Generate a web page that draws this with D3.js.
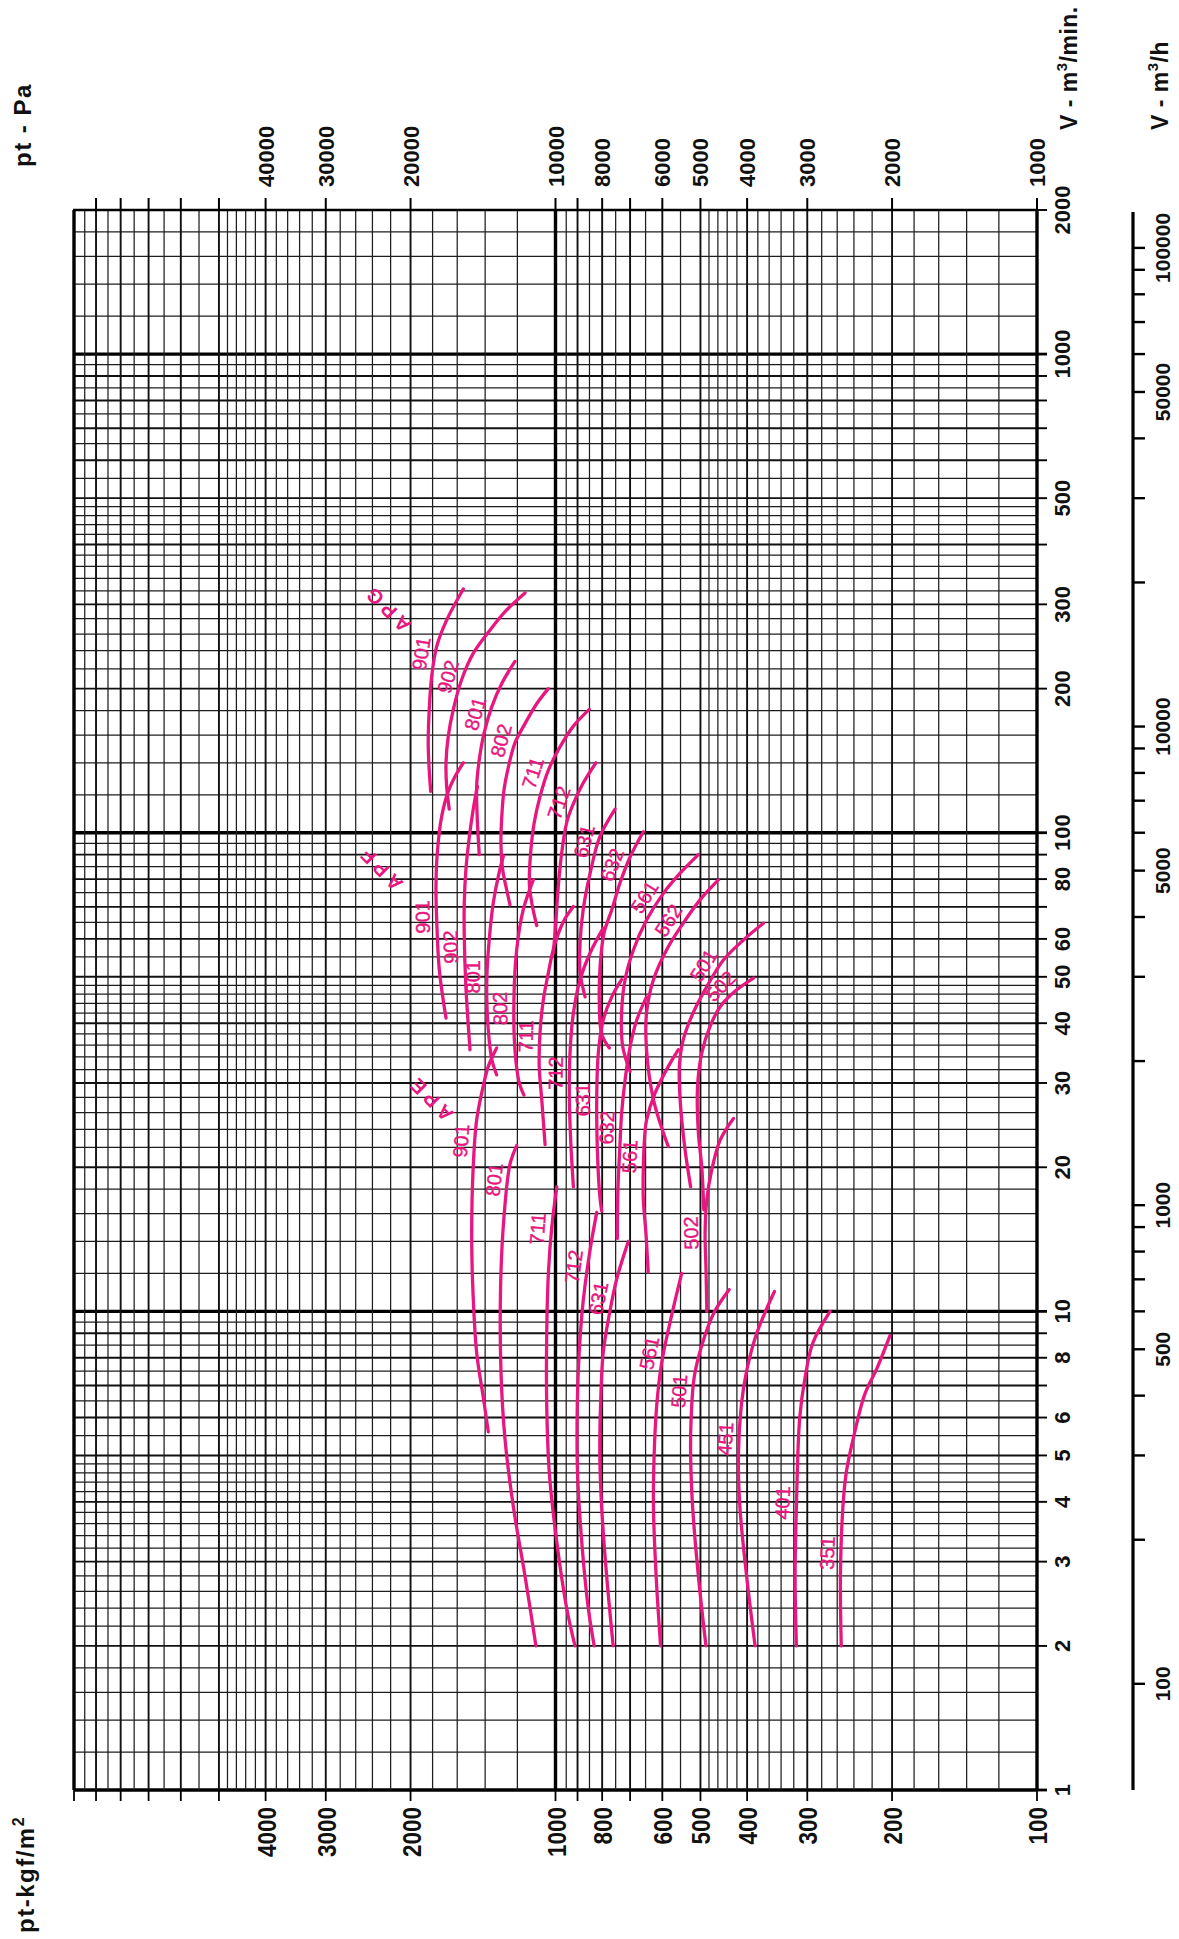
<!DOCTYPE html>
<html lang="en">
<head>
<meta charset="UTF-8">
<title>Fan characteristic curves APE / APF / APG</title>
<script src="https://cdnjs.cloudflare.com/ajax/libs/d3/7.8.5/d3.min.js"></script>
<style>
  body { margin: 0; background: #fff; }
  svg text { font-family: "Liberation Sans", Arial, Helvetica, sans-serif; }
  .axlbl { font-weight: bold; fill: #111; }
  .curve { fill: none; stroke: #e8177f; stroke-width: 3.3; stroke-linecap: round; stroke-linejoin: round; }
  .clbl { fill: #e8177f; font-size: 20px; stroke: #e8177f; stroke-width: 0.4; }
  .glbl { fill: #e8177f; font-size: 20px; font-weight: bold; letter-spacing: 5px; }
</style>
</head>
<body>
<div id="chart"></div>
<script>
// each curve: [V m3/min, pt kgf/m2], low flow first
const apg901 = [[122,1816],[135,1829],[154,1838],[181,1829],[212,1808],[245,1765],[278,1683],[323,1554]];
const apg902 = [[112,1662],[125,1683],[140,1688],[159,1670],[181,1630],[209,1566],[237,1482],[265,1368],[292,1263],[317,1157]];
const apg801 = [[90,1440],[106,1453],[125,1458],[142,1440],[161,1408],[183,1357],[205,1293],[228,1214]];
const apg802 = [[70.7,1243],[76,1263],[83.6,1287],[95,1298],[108,1293],[123,1279],[137,1253],[154,1214],[169,1157],[186,1094],[200,1035]];
const apg711 = [[64,1094],[71,1119],[78,1133],[91,1126],[105,1107],[119,1077],[135,1035],[151,979],[167,918],[181,851]];
const apg712 = [[56,1010],[65.7,998],[77,987],[90.6,971],[105,948],[115,918],[127,876],[140,824]];
const apg631 = [[45.4,868],[51,889],[59,889],[69,876],[82,848],[98,809],[112,752]];
const apg632 = [[35.5,773],[38,802],[44.7,811],[52.5,808],[61.7,793],[69,764],[78.4,735],[89,700],[100.5,657]];
const apg561 = [[31.7,700],[35.7,725],[42,729],[49.3,717],[56.9,689],[65.7,647],[74.7,597],[82.3,551],[90,505]];
const apg562 = [[22.1,583],[23.6,597],[27.7,626],[35.2,647],[42,647],[49.3,626],[56.9,588],[64.7,543],[72.4,501],[79.7,459]];
const apg501 = [[18.2,524],[21.7,538],[27.7,551],[32.5,553],[36.9,543],[42,518],[47.7,485],[54.2,448],[59.7,407],[64.7,370]];
const apg502 = [[16.3,492],[20.1,497],[23.6,505],[29.5,507],[34.6,497],[39.3,478],[43.3,455],[46.9,421],[49.7,388]];

const apf901 = [[41,1688],[51.7,1743],[65.7,1765],[77.2,1771],[90.6,1760],[108,1724],[122,1670],[131,1617],[140,1554]];
const apf902 = [[35.2,1505],[47.7,1535],[60.7,1547],[71.2,1547],[83.6,1535],[98,1510],[112,1482],[125,1453]];
const apf801 = [[31.2,1325],[33.5,1355],[37.4,1375],[43.7,1388],[50.5,1388],[59.7,1373],[71.2,1347],[81,1315],[89.4,1283]];
const apf802 = [[28.3,1163],[30,1189],[35.2,1214],[44.7,1220],[56.9,1204],[69,1167],[79.7,1112]];
const apf711 = [[22.3,1051],[27.7,1068],[32.5,1081],[38.1,1077],[44.7,1060],[50.9,1035],[57.8,1007],[65.2,963],[70.1,918]];
const apf712 = [[18.2,918],[22.8,930],[28.1,936],[34.6,933],[42,918],[49.3,889],[56,848],[63.2,796]];
const apf631 = [[16.2,802],[17.4,809],[22.1,819],[28.1,821],[34.6,815],[40.6,796],[45.4,764],[49.3,729]];
const apf632 = [[14.2,744],[17.9,742],[22.1,735],[25.9,729],[30.4,717],[35.7,700],[40.6,678],[45.4,647]];
const apf561 = [[12.1,642],[14.6,649],[17.1,657],[20,657],[23.6,652],[25.1,647],[28.6,621],[32.5,583],[35.2,556]];
const apf502 = [[10,485],[12.4,487],[14.6,489],[17.1,485],[19.7,474],[22.8,455],[25.3,427]];

const ape901 = [[5.6,1379],[6.6,1412],[8.2,1458],[11.4,1486],[14.6,1493],[20.1,1482],[25.1,1458],[28.6,1423],[32.5,1379],[35.5,1325]];
const ape801 = [[2.0,1098],[2.8,1157],[3.9,1223],[5.4,1273],[7.5,1298],[11.4,1300],[15.8,1279],[20.3,1243],[22.2,1204]];
const ape711 = [[2.0,911],[2.4,948],[3.3,994],[4.6,1030],[6.4,1043],[8.9,1043],[11.9,1035],[15,1018],[18.2,994]];
const ape712 = [[2.0,831],[2.4,855],[3.3,882],[4.6,900],[6.4,901],[8.2,893],[10.5,876],[13.4,848],[16.1,821]];
const ape631 = [[2.0,759],[2.8,783],[3.9,802],[5.0,809],[6.4,806],[8.2,796],[10,771],[11.7,746],[14,706]];
const ape561 = [[2.0,605],[2.8,618],[3.9,626],[5.0,624],[6.4,616],[7.8,602],[9.5,578],[12,547]];
const ape501 = [[2.0,487],[2.8,505],[3.9,519],[5.0,524],[5.9,523],[7.3,515],[8.7,493],[10,467],[11.1,436]];
const ape451 = [[2.0,385],[2.8,401],[3.9,414],[5.0,417],[6.4,411],[7.5,401],[9.0,382],[11,351]];
const ape401 = [[2.0,316],[2.8,318],[3.9,316],[6.0,311],[7.3,303],[8.6,292],[10,269]];
const ape351 = [[2.0,255],[2.8,256],[3.9,253],[4.6,249],[5.4,241],[6.7,228],[7.6,215],[8.9,202]];

const apgNames = ['901','902','801','802','711','712','631','632','561','562','501','502'];
const apgSeries = [apg901,apg902,apg801,apg802,apg711,apg712,apg631,apg632,apg561,apg562,apg501,apg502];
const apgLabelV = [234,208,174,153,130.6,113,94.3,83.6,70.8,63.3,51,45.6];

const apfNames = ['901','902','801','802','711','712','631','632','561','502'];
const apfSeries = [apf901,apf902,apf801,apf802,apf711,apf712,apf631,apf632,apf561,apf502];
const apfLabelV = [66.8,57.8,50,43,37.5,31.4,27.7,24.1,21,14.6];

const apeNames = ['901','801','711','712','631','561','501','451','401','351'];
const apeSeries = [ape901,ape801,ape711,ape712,ape631,ape561,ape501,ape451,ape401,ape351];
const apeLabelV = [22.6,18.7,14.8,12.3,10.5,8.07,6.78,5.39,3.97,3.12];

const groupNames = ['APG','APF','APE'];
const groupAt = [[294.5,2242],[84.4,2315],[27.9,1822]];   // [V, pt]

// axis labels
const vMinLabels = [2000,1000,500,300,200,100,80,60,50,40,30,20,10,8,6,5,4,3,2,1];
const vHourLabels = [100000,50000,10000,5000,1000,500,100];
const ptKgfLabels = [4000,3000,2000,1000,800,600,500,400,300,200,100];
const ptPaLabels = [40000,30000,20000,10000,8000,6000,5000,4000,3000,2000,1000];

const W = 1179, H = 1939;
const svg = d3.select('#chart').append('svg').attr('width', W).attr('height', H);
svg.append('rect').attr('width', W).attr('height', H).attr('fill', '#fff');

// pressure runs right->left, volume top->bottom (chart printed turned by 90 deg)
const x = d3.scaleLog().domain([10000, 100]).range([74, 1037]);
const y = d3.scaleLog().domain([2000, 1]).range([210, 1790]);
const xPa = d3.scaleLog().domain([100000, 1000]).range([74, 1037]);
const yHour = d3.scaleLog().domain([120000, 60]).range([210, 1790]);

function steps(lo, hi, st) {
  const a = [];
  for (let v = lo; v < hi - 1e-9; v += st) a.push(+v.toPrecision(6));
  return a;
}
function decadeGrid(decs) {
  let a = [];
  decs.forEach(d => { a = a.concat(steps(d, 5 * d, 0.2 * d), steps(5 * d, 10 * d, 0.5 * d)); });
  return a;
}
function kind(v) {
  const l = Math.log10(v);
  if (Math.abs(l - Math.round(l)) < 1e-6) return 2;
  const m = v / Math.pow(10, Math.floor(l + 1e-9));
  return Math.abs(m - Math.round(m)) < 1e-6 ? 1 : 0;
}
const widths = [1.25, 1.9, 3.4];
const colors = ['#1e1e1e', '#111', '#000'];

const vGrid = decadeGrid([1, 10, 100, 1000]).filter(v => v <= 2000);
const pGrid = decadeGrid([100, 1000]).concat([10000]);

const grid = svg.append('g').attr('class', 'grid');
grid.selectAll('line.h').data(vGrid.slice().sort((a, b) => kind(a) - kind(b))).join('line')
  .attr('class', 'h')
  .attr('x1', x(10000)).attr('x2', x(100))
  .attr('y1', d => y(d)).attr('y2', d => y(d))
  .attr('stroke', d => colors[kind(d)]).attr('stroke-width', d => widths[kind(d)]);
grid.selectAll('line.v').data(pGrid.slice().sort((a, b) => kind(a) - kind(b))).join('line')
  .attr('class', 'v')
  .attr('y1', y(2000)).attr('y2', y(1))
  .attr('x1', d => x(d)).attr('x2', d => x(d))
  .attr('stroke', d => colors[kind(d)]).attr('stroke-width', d => widths[kind(d)]);
// top border
grid.append('line').attr('x1', x(10000) - 1).attr('x2', x(100) + 1)
  .attr('y1', y(2000)).attr('y2', y(2000)).attr('stroke', '#000').attr('stroke-width', 2.4);

// integer ticks outside the frame
const intVals = decs => [].concat(...decs.map(d => d3.range(1, 10).map(m => m * d)));
const vTicks = intVals([1, 10, 100, 1000]).filter(v => v <= 2000);
svg.append('g').selectAll('line').data(vTicks).join('line')
  .attr('x1', x(100)).attr('x2', x(100) + 10)
  .attr('y1', d => y(d)).attr('y2', d => y(d))
  .attr('stroke', '#000').attr('stroke-width', d => kind(d) === 2 ? 2.8 : 1.9);

const paTicks = intVals([1000, 10000]);
svg.append('g').selectAll('line').data(paTicks).join('line')
  .attr('x1', d => xPa(d)).attr('x2', d => xPa(d))
  .attr('y1', y(2000)).attr('y2', y(2000) - 12)
  .attr('stroke', '#000').attr('stroke-width', 2);

const kgfTicks = intVals([100, 1000]).concat([10000]);
svg.append('g').selectAll('line').data(kgfTicks).join('line')
  .attr('x1', d => x(d)).attr('x2', d => x(d))
  .attr('y1', y(1)).attr('y2', y(1) + 11)
  .attr('stroke', '#000').attr('stroke-width', 1.8);

// m3/h scale
const hAxisX = 1133;
svg.append('line').attr('x1', hAxisX).attr('x2', hAxisX)
  .attr('y1', y(2000) + 2).attr('y2', y(1))
  .attr('stroke', '#000').attr('stroke-width', 3.2);
const hTicks = intVals([100, 1000, 10000]).concat([100000]);
svg.append('g').selectAll('line').data(hTicks).join('line')
  .attr('x1', hAxisX).attr('x2', hAxisX + 12)
  .attr('y1', d => yHour(d)).attr('y2', d => yHour(d))
  .attr('stroke', '#000').attr('stroke-width', 2.4);

// axis numbers (rotated, read bottom-to-top)
const lab = svg.append('g').attr('class', 'axlbl');
lab.selectAll('text.vm').data(vMinLabels).join('text')
  .attr('class', 'vm')
  .attr('transform', d => `translate(1070,${y(d)}) rotate(-90)`)
  .attr('text-anchor', 'middle').attr('font-size', 22)
  .text(d => d);
lab.selectAll('text.vh').data(vHourLabels).join('text')
  .attr('class', 'vh')
  .attr('transform', d => `translate(1170,${yHour(d)}) rotate(-90)`)
  .attr('text-anchor', 'middle').attr('font-size', 21)
  .text(d => d);
lab.selectAll('text.pa').data(ptPaLabels).join('text')
  .attr('class', 'pa')
  .attr('transform', d => `translate(${xPa(d) + 8},187) rotate(-90)`)
  .attr('text-anchor', 'start').attr('font-size', 22)
  .text(d => d);
lab.selectAll('text.kg').data(ptKgfLabels).join('text')
  .attr('class', 'kg')
  .attr('transform', d => `translate(${x(d) + 10},1807) rotate(-90)`)
  .attr('text-anchor', 'end').attr('font-size', 26)
  .attr('textLength', d => String(d).length * 12.5)
  .attr('lengthAdjust', 'spacingAndGlyphs')
  .text(d => d);

// axis titles
function title(tx, ty, size, spacing, parts) {
  const t = lab.append('text')
    .attr('transform', `translate(${tx},${ty}) rotate(-90)`)
    .attr('font-size', size).attr('letter-spacing', spacing);
  parts.forEach(p => {
    const s = t.append('tspan').text(p[0]);
    if (p[1]) s.attr('dy', p[1]);
    if (p[2]) s.attr('font-size', p[2]);
  });
}
title(31, 167, 24, 1.5, [['pt - Pa']]);
title(34, 1933, 24, 1.5, [['pt-kgf/m'], ['2', -10, 16]]);
title(1077, 130, 23, 0.5, [['V - m'], ['3', -10, 15], ['/min.', 10]]);
title(1168, 130, 23, 0.5, [['V - m'], ['3', -10, 15], ['/h', 10]]);

// fan curves
const line = d3.line()
  .x(d => x(d[1]))
  .y(d => y(d[0]))
  .curve(d3.curveCatmullRom.alpha(0.5));

function pointAt(series, v) {
  const pts = series.map(d => [x(d[1]), y(d[0])]);
  let i = 0;
  while (i < series.length - 2 && series[i + 1][0] < v) i++;
  const t = (Math.log(v) - Math.log(series[i][0])) / (Math.log(series[i + 1][0]) - Math.log(series[i][0]));
  const px = pts[i][0] + t * (pts[i + 1][0] - pts[i][0]);
  const py = pts[i][1] + t * (pts[i + 1][1] - pts[i][1]);
  const ang = Math.atan2(pts[i + 1][1] - pts[i][1], pts[i + 1][0] - pts[i][0]);
  return [px, py, ang];
}

const groups = [[apgNames, apgSeries, apgLabelV], [apfNames, apfSeries, apfLabelV], [apeNames, apeSeries, apeLabelV]];
const cg = svg.append('g');
groups.forEach(([names, series, lv]) => {
  cg.append('g').selectAll('path').data(series).join('path')
    .attr('class', 'curve').attr('d', line);
  cg.append('g').selectAll('text').data(names).join('text')
    .attr('class', 'clbl')
    .attr('text-anchor', 'middle').attr('dominant-baseline', 'central')
    .attr('transform', (d, i) => {
      const [px, py, a] = pointAt(series[i], lv[i]);
      const off = 14;
      const cx = px + off * Math.sin(a), cy = py - off * Math.cos(a);
      return `translate(${cx},${cy}) rotate(${a * 180 / Math.PI})`;
    })
    .text(d => d);
});

cg.append('g').selectAll('text').data(groupNames).join('text')
  .attr('class', 'glbl')
  .attr('text-anchor', 'middle').attr('dominant-baseline', 'central')
  .attr('transform', (d, i) => `translate(${x(groupAt[i][1])},${y(groupAt[i][0])}) rotate(-135)`)
  .text(d => d);
</script>
</body>
</html>
